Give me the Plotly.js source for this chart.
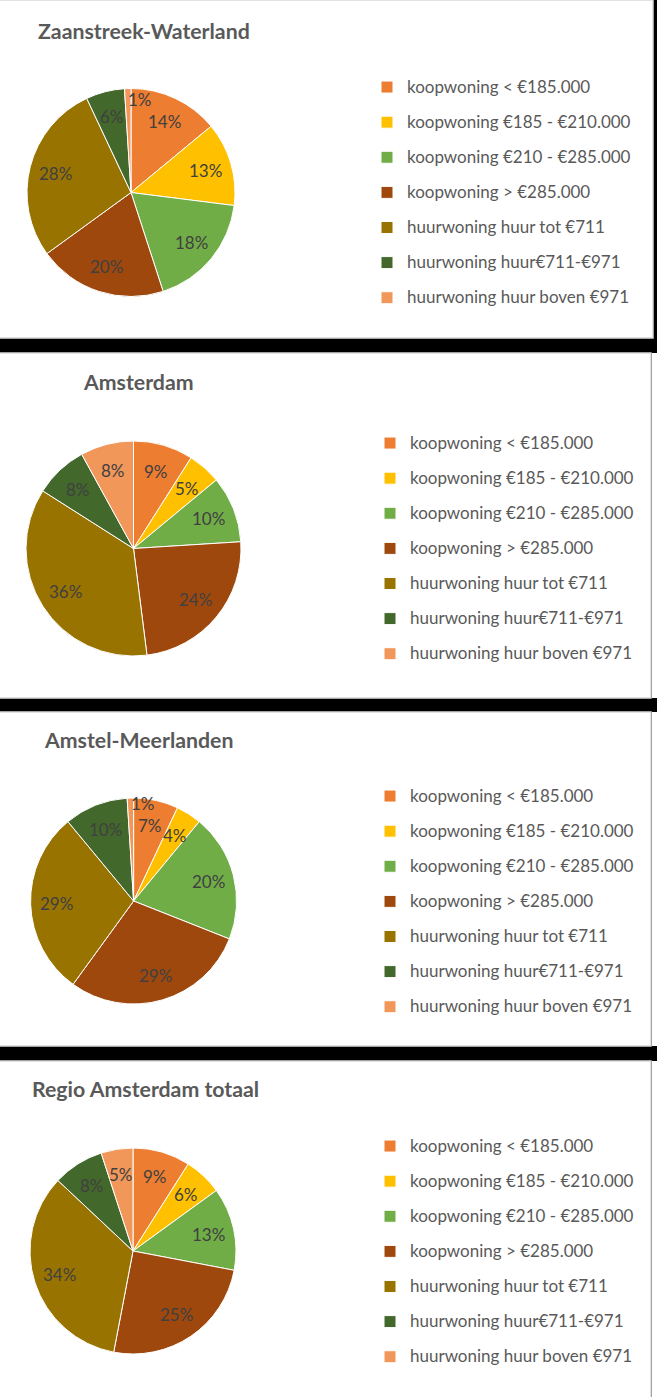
<!DOCTYPE html>
<html>
<head>
<meta charset="utf-8">
<script src="https://cdn.plot.ly/plotly-3.0.1.min.js"></script>
<style>
  html, body { margin: 0; padding: 0; background: #000; }
  #chart { width: 657px; height: 1397px; }
</style>
</head>
<body>
<div id="chart"></div>
<script>
const W = 657, H = 1397;

// data
const regions = ["Zaanstreek-Waterland", "Amsterdam", "Amstel-Meerlanden", "Regio Amsterdam totaal"];
const categories = [
  "koopwoning < €185.000",
  "koopwoning €185 - €210.000",
  "koopwoning €210 - €285.000",
  "koopwoning > €285.000",
  "huurwoning huur tot €711",
  "huurwoning huur€711-€971",
  "huurwoning huur boven €971"
];
const zaanstreek = [14, 13, 18, 20, 28, 6, 1];
const amsterdam = [9, 5, 10, 24, 36, 8, 8];
const amstelMeerlanden = [7, 4, 20, 29, 29, 10, 1];
const regioTotaal = [9, 6, 13, 25, 34, 8, 5];
const series = [zaanstreek, amsterdam, amstelMeerlanden, regioTotaal];

const sliceColors = ["#ED7D31", "#FFC000", "#70AD47", "#9E480E", "#997300", "#43682B", "#F1975A"];
const FONT = "Lato, 'Open Sans', sans-serif";
const LABEL_SIZE = 17;

// panel geometry (pixels)
const panels = [
  { top: 0,    bottom: 338,  right: 653, cx: 131,   cy: 192.5, r: 104,   titleX: 36, titleY: 31,   legX: 367, legY: 87 },
  { top: 353,  bottom: 698,  right: 651, cx: 133.5, cy: 548.5, r: 107.5, titleX: 81, titleY: 382,  legX: 370, legY: 443 },
  { top: 712,  bottom: 1046, right: 651, cx: 133.6, cy: 901,   r: 103,   titleX: 42, titleY: 740,  legX: 370, legY: 796 },
  { top: 1061, bottom: 1398, right: 651, cx: 133,   cy: 1251,  r: 103,   titleX: 30, titleY: 1089, legX: 370, legY: 1146 }
];
const labelR = 0.75;

const px = x => x / W;
const py = y => 1 - y / H;
const esc = s => s.replace(/</g, "&lt;").replace(/>/g, "&gt;");

const data = [];
const annotations = [];
const shapes = [];
const layout = {
  width: W, height: H,
  margin: { l: 0, r: 0, t: 0, b: 0, autoexpand: false },
  paper_bgcolor: "#000",
  font: { family: FONT, color: "#595959" },
  showlegend: true
};

// rough box of a label (incl. annotation padding), used to keep tiny-slice labels clear of neighbours
function labelBox(x, y, text, anchor) {
  const w = text.length * LABEL_SIZE * 0.62 + 4, h = LABEL_SIZE * 1.2;
  const x0 = anchor === "left" ? x : x - w / 2;
  return { x0, x1: x0 + w, y0: y - h / 2, y1: y + h / 2 };
}
const hits = (a, b) => a.x0 < b.x1 && b.x0 < a.x1 && a.y0 < b.y1 && b.y0 < a.y1;

series.forEach((vals, i) => {
  const p = panels[i];
  const legendId = i === 0 ? "legend" : "legend" + (i + 1);

  // white panel
  shapes.push({
    type: "rect", xref: "paper", yref: "paper", layer: "below",
    x0: px(-2), x1: px(p.right), y0: py(p.bottom), y1: py(p.top),
    fillcolor: "#fff", line: { color: "#D9D9D9", width: 1.5 }
  });
  if (i > 0) {
    shapes.push({
      type: "rect", xref: "paper", yref: "paper", layer: "below",
      x0: px(p.right + 1), x1: px(W + 2), y0: py(p.bottom), y1: py(p.top),
      fillcolor: "#fff", line: { width: 0 }
    });
  }

  data.push({
    type: "pie",
    values: vals,
    labels: categories.map(c => '<span style="font-size:17px;baseline-shift:4px">' + esc(c) + "</span>"),
    sort: false,
    direction: "clockwise",
    rotation: 0,
    marker: { colors: sliceColors, line: { color: "#fff", width: 1 } },
    textinfo: "none",
    hoverinfo: "percent",
    domain: { x: [px(p.cx - p.r), px(p.cx + p.r)], y: [py(p.cy + p.r), py(p.cy - p.r)] },
    legend: legendId,
    legendgroup: "region" + i
  });

  layout[legendId] = {
    x: px(p.legX), y: py(p.legY - 22.5), xanchor: "left", yanchor: "top",
    font: { family: FONT, size: 24.7, color: "#595959" },
    bgcolor: "rgba(0,0,0,0)", borderwidth: 0, traceorder: "normal"
  };

  // title
  annotations.push({
    xref: "paper", yref: "paper", x: px(p.titleX), y: py(p.titleY),
    xanchor: "left", yanchor: "middle", showarrow: false,
    text: regions[i],
    font: { family: FONT, size: 21.3, weight: "bold", color: "#595959" }
  });

  // percentage labels
  const total = vals.reduce((a, b) => a + b, 0);
  const mids = [];
  let cum = 0;
  vals.forEach(v => { mids.push((cum + v / 2) / total * 2 * Math.PI); cum += v; });
  const texts = vals.map(v => Math.round(v / total * 100) + "%");
  const placed = vals.map((v, j) => ({
    x: p.cx + labelR * p.r * Math.sin(mids[j]),
    y: p.cy - labelR * p.r * Math.cos(mids[j]),
    anchor: "center"
  }));
  vals.forEach((v, j) => {
    if (v / total >= 0.02) return;
    let rf = 0.77;
    const put = () => {
      placed[j] = {
        x: p.cx + rf * p.r * Math.sin(mids[j]) - 2,
        y: p.cy - rf * p.r * Math.cos(mids[j]),
        anchor: "left"
      };
    };
    put();
    const clash = () => placed.some((q, k) => k !== j &&
      hits(labelBox(placed[j].x, placed[j].y, texts[j], "left"), labelBox(q.x, q.y, texts[k], q.anchor)));
    while (clash() && rf < 0.95) { rf += 0.02; put(); }
  });
  placed.forEach((q, j) => {
    annotations.push({
      xref: "paper", yref: "paper", x: px(q.x), y: py(q.y),
      xanchor: q.anchor, yanchor: "middle", showarrow: false,
      text: texts[j],
      font: { family: FONT, size: LABEL_SIZE, color: "#404040" }
    });
  });
});

layout.annotations = annotations;
layout.shapes = shapes;

Plotly.newPlot("chart", data, layout, { staticPlot: true });
</script>
</body>
</html>
